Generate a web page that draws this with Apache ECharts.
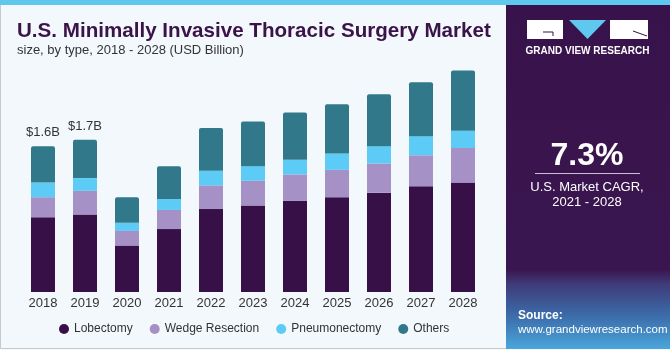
<!DOCTYPE html>
<html>
<head>
<meta charset="utf-8">
<script src="https://cdn.jsdelivr.net/npm/echarts@6/dist/echarts.min.js"></script>
<style>
  html, body { margin: 0; padding: 0; background: #f3f8fc; }
  #chart { width: 670px; height: 350px; }
</style>
</head>
<body>
<div id="chart"></div>
<script>
const years = ['2018', '2019', '2020', '2021', '2022', '2023', '2024', '2025', '2026', '2027', '2028'];
const lobectomy = [0.82, 0.85, 0.51, 0.69, 0.91, 0.95, 1.00, 1.04, 1.09, 1.16, 1.20];
const wedge = [0.22, 0.26, 0.16, 0.21, 0.26, 0.27, 0.29, 0.30, 0.32, 0.34, 0.38];
const pneumo = [0.16, 0.14, 0.09, 0.12, 0.16, 0.16, 0.16, 0.18, 0.19, 0.21, 0.19];
const others = [0.40, 0.42, 0.28, 0.36, 0.47, 0.49, 0.52, 0.54, 0.57, 0.59, 0.66];
const totalLabels = ['$1.6B', '$1.7B'];

const chart = echarts.init(document.getElementById('chart'));
const font = '"Liberation Sans", Arial, sans-serif';
const panelX = 506;

const series = [
  { name: 'Lobectomy', data: lobectomy, color: '#371047' },
  { name: 'Wedge Resection', data: wedge, color: '#a591c6' },
  { name: 'Pneumonectomy', data: pneumo, color: '#5ccbf5' },
  { name: 'Others', data: others, color: '#30788a' }
].map((s, i) => ({
  name: s.name,
  type: 'bar',
  stack: 'total',
  barWidth: 24,
  data: s.data.map((v, j) => {
    const item = { value: v };
    if (i === 3 && j < totalLabels.length) {
      item.label = {
        show: true, position: 'top', distance: 7,
        formatter: totalLabels[j], color: '#333', fontSize: 13, fontFamily: font
      };
    }
    return item;
  }),
  itemStyle: { color: s.color, borderRadius: i === 3 ? [2, 2, 0, 0] : 0 }
}));

chart.setOption({
  backgroundColor: '#f3f8fc',
  animation: false,
  textStyle: { fontFamily: font },
  title: {
    text: 'U.S. Minimally Invasive Thoracic Surgery Market',
    subtext: 'size, by type, 2018 - 2028 (USD Billion)',
    left: 12, top: 16, itemGap: 2,
    textStyle: { color: '#3a1349', fontSize: 20.6, fontWeight: 'bold', fontFamily: font },
    subtextStyle: { color: '#333', fontSize: 13, fontFamily: font }
  },
  legend: {
    bottom: 10, left: 54,
    itemWidth: 10, itemHeight: 10, itemGap: 17,
    icon: 'circle',
    textStyle: { color: '#333', fontSize: 12, fontFamily: font },
    data: ['Lobectomy', 'Wedge Resection', 'Pneumonectomy', 'Others']
  },
  grid: { left: 22, right: 186, top: 55, bottom: 58 },
  xAxis: {
    type: 'category',
    data: years,
    axisLine: { show: false },
    axisTick: { show: false },
    axisLabel: { color: '#333', fontSize: 13, margin: 5 }
  },
  yAxis: {
    type: 'value', min: 0, max: 2.6,
    show: false, splitLine: { show: false }
  },
  series: series,
  graphic: [
    // outer frame
    { type: 'rect', shape: { x: 0.5, y: 0.5, width: 669, height: 348 }, style: { fill: 'none', stroke: '#c8c8c8', lineWidth: 1 }, z: 0 },
    // top strip
    { type: 'rect', shape: { x: 0, y: 0, width: 670, height: 5 }, style: { fill: '#5ec8ef' }, z: 10 },
    // right panel
    { type: 'rect', shape: { x: panelX, y: 5, width: 164, height: 344 }, style: {
        fill: new echarts.graphic.LinearGradient(0, 0, 0, 1, [
          { offset: 0, color: '#38124a' },
          { offset: 0.77, color: '#3a1650' },
          { offset: 0.81, color: '#3f3a78' },
          { offset: 0.9, color: '#3c6aa8' },
          { offset: 1, color: '#4aa6dc' }
        ]) }, z: 5 },
    // logo
    { type: 'rect', shape: { x: 527, y: 20, width: 36, height: 19 }, style: { fill: '#ffffff' }, z: 11 },
    { type: 'polyline', shape: { points: [[543, 32], [553, 32], [553, 36]] }, style: { stroke: '#38124a', lineWidth: 1, fill: 'none' }, z: 12 },
    { type: 'polygon', shape: { points: [[569, 20], [606, 20], [587.5, 39]] }, style: { fill: '#5ec8ef' }, z: 11 },
    { type: 'rect', shape: { x: 610, y: 20, width: 38, height: 19 }, style: { fill: '#ffffff' }, z: 11 },
    { type: 'line', shape: { x1: 633, y1: 31, x2: 647, y2: 36 }, style: { stroke: '#38124a', lineWidth: 1 }, z: 12 },
    { type: 'text', x: 587.5, y: 51, style: { text: 'GRAND VIEW RESEARCH', fill: '#ffffff', font: 'bold 10px ' + font, align: 'center', verticalAlign: 'middle' }, z: 11 },
    // CAGR
    { type: 'text', x: 587, y: 156, style: { text: '7.3%', fill: '#ffffff', font: 'bold 32px ' + font, align: 'center', verticalAlign: 'middle' }, z: 11 },
    { type: 'line', shape: { x1: 535, y1: 173.5, x2: 640, y2: 173.5 }, style: { stroke: '#c9bfd6', lineWidth: 1 }, z: 11 },
    { type: 'text', x: 587, y: 187, style: { text: 'U.S. Market CAGR,', fill: '#ffffff', font: '13px ' + font, align: 'center', verticalAlign: 'middle' }, z: 11 },
    { type: 'text', x: 587, y: 202, style: { text: '2021 - 2028', fill: '#ffffff', font: '13px ' + font, align: 'center', verticalAlign: 'middle' }, z: 11 },
    // source
    { type: 'text', x: 518, y: 316, style: { text: 'Source:', fill: '#ffffff', font: 'bold 12px ' + font, verticalAlign: 'middle' }, z: 11 },
    { type: 'text', x: 518, y: 330, style: { text: 'www.grandviewresearch.com', fill: '#ffffff', font: '11.5px ' + font, verticalAlign: 'middle' }, z: 11 }
  ]
});
</script>
</body>
</html>
